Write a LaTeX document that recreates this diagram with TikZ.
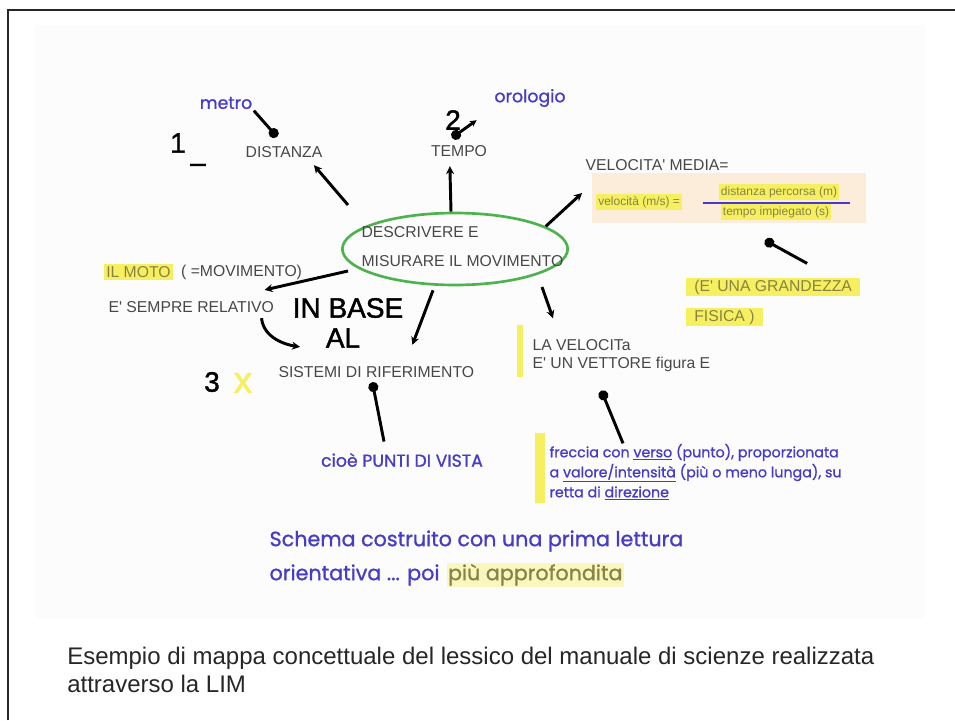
\documentclass[tikz,border=0pt]{standalone}
\usepackage{fontspec}
\setmainfont{Liberation Sans}
\newfontfamily\penfont[FakeBold=1]{Poppins}
\newfontfamily\handfont[FakeBold=1.5]{Liberation Sans}
\usetikzlibrary{shapes,arrows.meta,positioning}
\definecolor{penblue}{RGB}{70,60,200}
\definecolor{ringgreen}{RGB}{78,178,78}
\definecolor{marker}{RGB}{246,240,96}
\definecolor{palemarker}{RGB}{250,247,190}
\definecolor{peach}{RGB}{252,236,218}
\definecolor{dimtext}{RGB}{135,130,70}
\newcommand{\tick}{\textquotesingle}
\tikzset{
  word/.style    = {text=black!72, inner sep=1pt, font=\fontsize{11.8}{14}\selectfont},
  penword/.style = {text=penblue, inner sep=1pt, font=\penfont\fontsize{13}{16}\selectfont},
  scrawl/.style  = {text=black, inner sep=0pt, font=\handfont\fontsize{21}{24}\selectfont},
  hilite/.style  = {fill=marker, text=dimtext, inner sep=1.5pt},
  hubring/.style = {ellipse, draw=ringgreen, line width=2pt, inner sep=0pt,
                    minimum width=169pt, minimum height=54pt},
  link/.style    = {line width=2.2pt, -{Stealth[length=6pt,width=6pt]}},
  pinlink/.style = {line width=2.2pt, {Circle[length=7.5pt]}-},
}

\begin{document}
\begin{tikzpicture}[x=0.75pt,y=-0.75pt]
	\useasboundingbox (0,0) rectangle (955,720);
	% frame and screen
	\fill[black!1] (35,25) rectangle (925,618);
	\draw[line width=2.2pt, black!85] (8,720) -- (8,10) -- (955,10);

	% centre
	\node[hubring] (hub) at (455,249) {};
	\node[word, align=left, anchor=west, font=\fontsize{11.8}{21.75}\selectfont] (hubtext) at (360,247) {DESCRIVERE E\\MISURARE IL MOVIMENTO};

	% top
	\node[penword] (metro) at (226,103) {metro};
	\node[word] (dist) at (284,152) {DISTANZA};
	\node[scrawl] (one) at (178,143) {1};
	\node[scrawl] (dash) at (198,168) {\textendash};
	\node[scrawl] (two) at (453,120) {2};
	\node[word] (tempo) at (459,151) {TEMPO};
	\node[penword] (orologio) at (530,98) {orologio};

	% right
	\node[word, anchor=west] (vmedia) at (584,165) {VELOCITA\tick{} MEDIA=};
	\node[fill=peach, inner sep=0pt, minimum width=205pt, minimum height=37.5pt] (formula) at (729,198) {};
	\node[hilite, anchor=west, font=\fontsize{9}{11}\selectfont] (velo) at (596,202) {velocità (m/s) =};
	\node[hilite, font=\fontsize{9}{11}\selectfont] (num) at (779,192) {distanza percorsa (m)};
	\node[hilite, font=\fontsize{9}{11}\selectfont] (den) at (776,212) {tempo impiegato (s)};
	\draw[penblue, line width=0.8pt] (703,203) -- (850,203);
	\node[word, hilite, anchor=west, inner xsep=6pt] (grand) at (686,287) {(E\tick{} UNA GRANDEZZA};
	\node[word, hilite, anchor=west, inner xsep=6pt] (fisica) at (686,317) {FISICA )};

	\fill[marker] (517,325) rectangle (523,377);
	\node[word, align=left, anchor=west, font=\fontsize{11.8}{13.5}\selectfont] (vett) at (531,356) {LA VELOCITa\\E\tick{} UN VETTORE figura E};
	\fill[marker] (535,433) rectangle (545,503);
	\node[penword, align=left, anchor=west, font=\penfont\fontsize{10.7}{15}\selectfont] (freccia) at (548,472)
		{freccia con \underline{verso} (punto), proporzionata\\a \underline{valore/intensità} (più o meno lunga), su\\retta di \underline{direzione}};

	% left
	\node[word, hilite, anchor=west] (moto) at (104,272) {IL MOTO};
	\node[word, right=5pt of moto] (movim) {( =MOVIMENTO)};
	\node[word, anchor=west] (relativo) at (107,307) {E\tick{} SEMPRE RELATIVO};
	\node[scrawl] (inbase) at (348,308) {IN BASE};
	\node[scrawl] (al) at (343,338) {AL};
	\node[scrawl] (three) at (212,382) {3};
	\node[scrawl, text=marker, font=\handfont\fontsize{28}{30}\selectfont] (cross) at (243,383) {x};
	\node[word, anchor=west] (sistemi) at (277,372) {SISTEMI DI RIFERIMENTO};
	\node[penword] (punti) at (402,460) {cioè PUNTI DI VISTA};

	% bottom
	\node[penword, anchor=west, font=\penfont\fontsize{15.5}{18}\selectfont] (schema) at (268,541) {Schema costruito con una prima lettura};
	\node[penword, anchor=west, font=\penfont\fontsize{15.5}{18}\selectfont] (orient) at (268,575) {orientativa ... poi};
	\node[penword, anchor=base west, fill=palemarker, text=dimtext, font=\penfont\fontsize{15.5}{18}\selectfont] (deeper) at ([xshift=4pt]orient.base east) {più approfondita};
	\node[anchor=west, align=left, inner sep=0pt, text=black!85, font=\fontsize{18}{20.5}\selectfont] (caption) at (67,670)
		{Esempio di mappa concettuale del lessico del manuale di scienze realizzata\\attraverso la LIM};

	% connectors
	\draw[link] ([shift={(-107,-44)}]hub.center) -- ([shift={(-10,6)}]dist.south east);
	\draw[link, shorten >=6pt] ([xshift=-3]hub.north) -- ([xshift=-7]tempo.south);
	\draw[link] (hub.14) -- ([shift={(-10,-5)}]formula.west);
	\draw[link] ([shift={(87,38)}]hub.center) -- ([shift={(22,-20)}]vett.north west);
	\draw[link] ([shift={(-107,22)}]hub.center) -- ([shift={(23,9)}]movim.south);
	\draw[link] ([shift={(-22,4)}]hub.south) -- ([shift={(36,-20)}]sistemi.north);
	\draw[link] ([shift={(-14,4)}]relativo.south east) .. controls +(2,20) and +(-14,-2) .. ([shift={(23,-18)}]sistemi.north west);

	\draw[pinlink] ([shift={(-7,-8)}]dist.north) -- (metro.south east);
	\draw[pinlink, {Circle[length=7.5pt]}-{Stealth[length=5pt,width=5pt]}, shorten >=15pt] ([shift={(-7,-6)}]tempo.north) -- (orologio.south west);
	\draw[pinlink] ([shift={(36,17)}]formula.south) -- ([shift={(34,-14)}]grand.north);
	\draw[pinlink] ([shift={(-20,17)}]vett.south) -- ([shift={(75,1)}]freccia.north west);
	\draw[pinlink] ([shift={(-4,3)}]sistemi.south) -- ([shift={(-18,-10)}]punti.north);
\end{tikzpicture}
\end{document}
